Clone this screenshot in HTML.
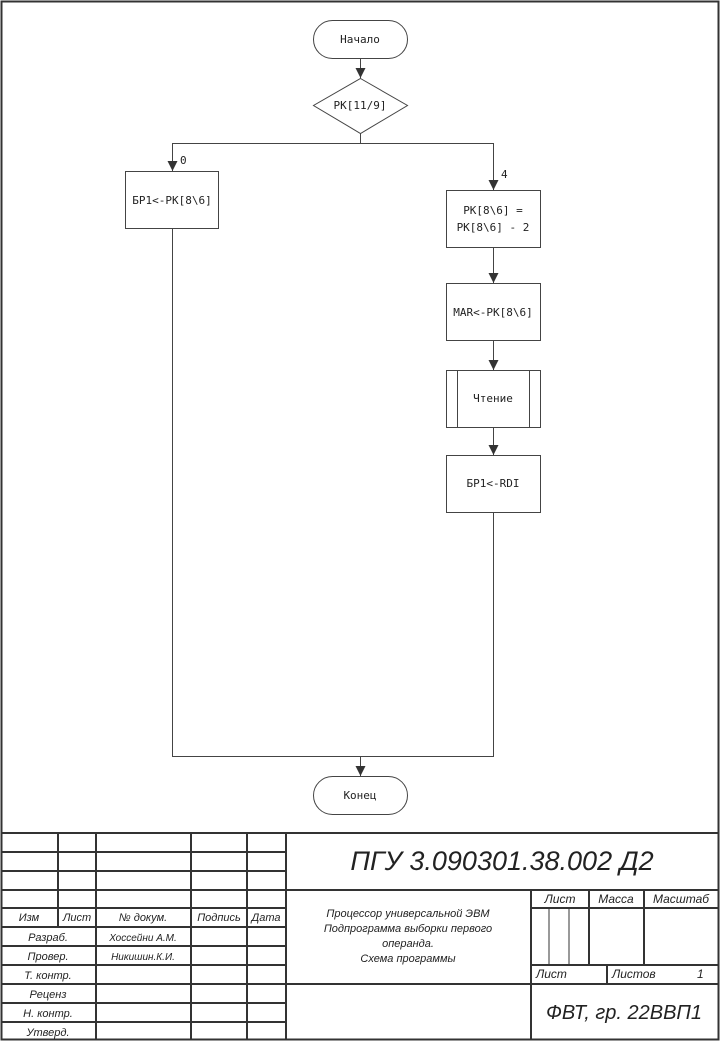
<!DOCTYPE html>
<html><head><meta charset="utf-8"><style>
body{margin:0;background:#fff}
svg{display:block}
.m{font-family:"DejaVu Sans Mono","Liberation Mono",monospace;font-size:11px;fill:#222}
.i{font-family:"Liberation Sans","DejaVu Sans",sans-serif;font-style:italic;fill:#222}
</style></head><body>
<svg width="721" height="1043" viewBox="0 0 721 1043" xmlns="http://www.w3.org/2000/svg">
<defs><marker id="a" markerWidth="10" markerHeight="10" refX="5" refY="10" orient="0" markerUnits="userSpaceOnUse"><path d="M0,0 L10,0 L5,10z" fill="#333"/></marker></defs>
<rect x="1.5" y="1.5" width="717" height="1038" fill="none" stroke="#333" stroke-width="2"/>
<g fill="none" stroke="#444" stroke-width="1">
<rect x="313.5" y="20.5" width="94" height="38" rx="19"/>
<path d="M360.5,58.5 V78" marker-end="url(#a)"/>
<path d="M360.5,78.5 L407.5,105.5 L360.5,133.5 L313.5,105.5z"/>
<path d="M360.5,133.5 V143.5 H172.5 V171" marker-end="url(#a)"/>
<path d="M360.5,143.5 H493.5 V190" marker-end="url(#a)"/>
<rect x="125.5" y="171.5" width="93" height="57"/>
<rect x="446.5" y="190.5" width="94" height="57"/>
<path d="M493.5,247.5 V283" marker-end="url(#a)"/>
<rect x="446.5" y="283.5" width="94" height="57"/>
<path d="M493.5,340.5 V370" marker-end="url(#a)"/>
<rect x="446.5" y="370.5" width="94" height="57"/>
<path d="M457.5,370.5 V427.5 M529.5,370.5 V427.5"/>
<path d="M493.5,427.5 V455" marker-end="url(#a)"/>
<rect x="446.5" y="455.5" width="94" height="57"/>
<path d="M172.5,228.5 V756.5 H493.5 V512.5"/>
<path d="M360.5,756.5 V776" marker-end="url(#a)"/>
<rect x="313.5" y="776.5" width="94" height="38" rx="19"/>
</g>
<text class="m" x="360" y="43" text-anchor="middle">Начало</text>
<text class="m" x="360" y="109" text-anchor="middle">РК[11/9]</text>
<text class="m" x="180" y="164">0</text>
<text class="m" x="501" y="178">4</text>
<text class="m" x="172" y="204" text-anchor="middle">БР1&lt;-РК[8\6]</text>
<text class="m" x="493" y="214" text-anchor="middle">РК[8\6] =</text>
<text class="m" x="493" y="231" text-anchor="middle">РК[8\6] - 2</text>
<text class="m" x="493" y="316" text-anchor="middle">MAR&lt;-РК[8\6]</text>
<text class="m" x="493" y="402" text-anchor="middle">Чтение</text>
<text class="m" x="493" y="487" text-anchor="middle">БР1&lt;-RDI</text>
<text class="m" x="360" y="799" text-anchor="middle">Конец</text>
<g stroke="#333" stroke-width="2" fill="none">
<path d="M1,833 H719"/>
<path d="M1,852 H286 M1,871 H286 M1,890 H719 M1,908 H286 M531,908 H719 M1,927 H286 M1,946 H286 M1,965 H286 M1,984 H719 M1,1003 H286 M1,1022 H286 M531,965 H719"/>
<path d="M58,833 V927 M96,833 V1040 M191,833 V1040 M247,833 V1040 M286,833 V1040 M531,890 V1040 M589,890 V965 M644,890 V965 M607,965 V984"/>
</g>
<path d="M549,908 V965 M569,908 V965" stroke="#333" stroke-width="1"/>
<text class="i" x="502" y="870" font-size="27" text-anchor="middle">ПГУ 3.090301.38.002 Д2</text>
<g font-size="11">
<text class="i" x="29" y="921" text-anchor="middle">Изм</text>
<text class="i" x="77" y="921" text-anchor="middle">Лист</text>
<text class="i" x="143" y="921" text-anchor="middle">№ докум.</text>
<text class="i" x="219" y="921" text-anchor="middle">Подпись</text>
<text class="i" x="266" y="921" text-anchor="middle">Дата</text>
<text class="i" x="48" y="941" text-anchor="middle">Разраб.</text>
<text class="i" x="48" y="960" text-anchor="middle">Провер.</text>
<text class="i" x="48" y="979" text-anchor="middle">Т. контр.</text>
<text class="i" x="48" y="998" text-anchor="middle">Реценз</text>
<text class="i" x="48" y="1017" text-anchor="middle">Н. контр.</text>
<text class="i" x="48" y="1036" text-anchor="middle">Утверд.</text>
<text class="i" x="143" y="941" text-anchor="middle" font-size="10">Хоссейни А.М.</text>
<text class="i" x="143" y="960" text-anchor="middle" font-size="10">Никишин.К.И.</text>
<text class="i" x="408" y="917" text-anchor="middle">Процессор универсальной ЭВМ</text>
<text class="i" x="408" y="932" text-anchor="middle">Подпрограмма выборки первого</text>
<text class="i" x="408" y="947" text-anchor="middle">операнда.</text>
<text class="i" x="408" y="962" text-anchor="middle">Схема программы</text>
<text class="i" x="560" y="903" text-anchor="middle" font-size="12">Лист</text>
<text class="i" x="616" y="903" text-anchor="middle" font-size="12">Масса</text>
<text class="i" x="681" y="903" text-anchor="middle" font-size="12">Масштаб</text>
<text class="i" x="536" y="978" font-size="12">Лист</text>
<text class="i" x="612" y="978" font-size="12">Листов</text>
<text class="i" x="697" y="978" font-size="12">1</text>
</g>
<text class="i" x="624" y="1019" font-size="20" text-anchor="middle">ФВТ, гр. 22ВВП1</text>
</svg>
</body></html>
